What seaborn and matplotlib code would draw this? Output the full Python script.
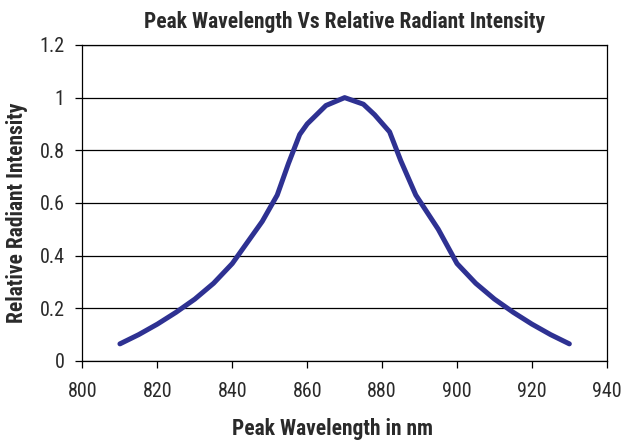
import matplotlib
matplotlib.use("Agg")
import matplotlib.pyplot as plt
import seaborn as sns
import pandas as pd

# Data
wavelength = [810, 815, 820, 825, 830, 835, 840, 845, 848, 852, 855, 858, 860,
              865, 870, 875, 878, 882, 885, 889, 895, 900, 905, 910, 915, 920, 925, 930]
intensity = [0.065, 0.10, 0.14, 0.185, 0.235, 0.295, 0.37, 0.47, 0.53, 0.63, 0.75, 0.86, 0.90,
             0.97, 1.0, 0.975, 0.935, 0.87, 0.76, 0.63, 0.50, 0.37, 0.295, 0.235, 0.185, 0.14, 0.10, 0.065]
x_ticks = [800, 820, 840, 860, 880, 900, 920, 940]
y_ticks = [0, 0.2, 0.4, 0.6, 0.8, 1, 1.2]
y_tick_labels = ["0", "0.2", "0.4", "0.6", "0.8", "1", "1.2"]

df = pd.DataFrame({"Wavelength": wavelength, "Intensity": intensity})

sns.set_style("white")
plt.rcParams["font.family"] = ["Roboto Condensed", "DejaVu Sans"]

fig = plt.figure(figsize=(6.23, 4.45), dpi=100)
ax = fig.add_axes([0.1324, 0.1888, 0.8416, 0.7102])

sns.lineplot(data=df, x="Wavelength", y="Intensity", ax=ax, color="#2e3192", linewidth=3.6)

ax.set_xlim(800, 940)
ax.set_ylim(0, 1.2)
ax.set_xticks(x_ticks)
ax.set_yticks(y_ticks)
ax.set_yticklabels(y_tick_labels)
ax.yaxis.grid(True, color="black", linewidth=0.9)
ax.set_axisbelow(True)
for s in ax.spines.values():
    s.set_color("black")
    s.set_linewidth(0.9)
ax.tick_params(axis="both", direction="out", length=5, width=0.9, color="black",
               labelsize=14.5, labelcolor="#2a2a2a", bottom=True, left=True)
ax.tick_params(axis="x", pad=10)
ax.tick_params(axis="y", pad=8)

ax.set_title("Peak Wavelength Vs Relative Radiant Intensity", fontsize=15.5,
             fontweight="bold", color="#2a2a2a", pad=12)
ax.set_xlabel("Peak Wavelength in nm", fontsize=15.5, fontweight="bold", color="#2a2a2a")
ax.xaxis.set_label_coords(0.4776, -0.18)
ax.set_ylabel("Relative Radiant Intensity", fontsize=15.5, fontweight="bold", color="#2a2a2a")
ax.yaxis.set_label_coords(-0.104, 0.47)

fig.savefig("out.png", dpi=100)
